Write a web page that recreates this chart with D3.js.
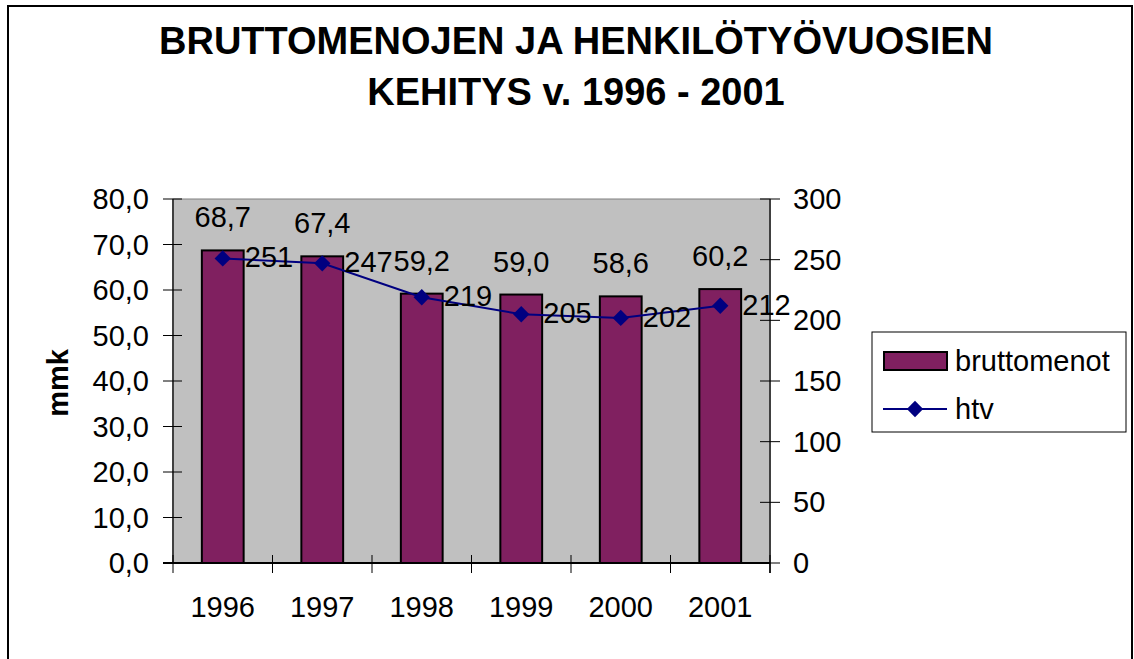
<!DOCTYPE html>
<html>
<head>
<meta charset="utf-8">
<script src="https://cdn.jsdelivr.net/npm/d3@7"></script>
<style>
  body { margin: 0; background: #fff; }
  text { font-family: "Liberation Sans", Arial, sans-serif; fill: #000; }
</style>
</head>
<body>
<div id="chart"></div>
<script>
// chart values
var years = ['1996', '1997', '1998', '1999', '2000', '2001'];
var bruttomenot = [68.7, 67.4, 59.2, 59.0, 58.6, 60.2];
var htv = [251, 247, 219, 205, 202, 212];
var leftTicks = [0, 10, 20, 30, 40, 50, 60, 70, 80];
var rightTicks = [0, 50, 100, 150, 200, 250, 300];
var titleLines = ['BRUTTOMENOJEN JA HENKILÖTYÖVUOSIEN', 'KEHITYS v. 1996 - 2001'];

var width = 1134;
var height = 659;
var barColor = '#802060';
var lineColor = '#000080';
var fs = '29px';
var fmt = function(v) { return d3.format('.1f')(v).replace('.', ','); };

var svg = d3.select('#chart').append('svg')
  .attr('width', width)
  .attr('height', height);

// outer frame
svg.append('rect')
  .attr('x', 8).attr('y', 6)
  .attr('width', 1124).attr('height', 670)
  .attr('fill', 'none')
  .attr('stroke', '#000')
  .attr('stroke-width', 2);

// plot area
var plot = { left: 173, right: 770, top: 199, bottom: 563 };

var x = d3.scaleBand().domain(years).range([plot.left, plot.right]);
var yL = d3.scaleLinear().domain([0, 80]).range([plot.bottom, plot.top]);
var yR = d3.scaleLinear().domain([0, 300]).range([plot.bottom, plot.top]);

svg.append('rect')
  .attr('x', plot.left).attr('y', plot.top)
  .attr('width', plot.right - plot.left).attr('height', plot.bottom - plot.top)
  .attr('fill', '#c0c0c0')
  .attr('stroke', '#808080')
  .attr('stroke-width', 1);

// title
svg.selectAll('.title').data(titleLines).enter().append('text')
  .attr('class', 'title')
  .attr('x', 576)
  .attr('y', function(d, i) { return 54 + i * 51; })
  .attr('text-anchor', 'middle')
  .style('font-size', '38px')
  .style('font-weight', 'bold')
  .text(function(d) { return d; });

// bars
var barW = x.bandwidth() * 0.42;
svg.selectAll('.bar').data(bruttomenot).enter().append('rect')
  .attr('class', 'bar')
  .attr('x', function(d, i) { return x(years[i]) + x.bandwidth() / 2 - barW / 2; })
  .attr('y', function(d) { return yL(d); })
  .attr('width', barW)
  .attr('height', function(d) { return yL(0) - yL(d); })
  .attr('fill', barColor)
  .attr('stroke', '#000')
  .attr('stroke-width', 2);

// left axis
svg.append('line')
  .attr('x1', plot.left).attr('x2', plot.left)
  .attr('y1', plot.top).attr('y2', plot.bottom)
  .attr('stroke', '#404040').attr('stroke-width', 2);
svg.selectAll('.ltick').data(leftTicks).enter().append('line')
  .attr('x1', plot.left - 10).attr('x2', plot.left + 9)
  .attr('y1', function(d) { return yL(d); })
  .attr('y2', function(d) { return yL(d); })
  .attr('stroke', '#000');
svg.selectAll('.llab').data(leftTicks).enter().append('text')
  .attr('x', plot.left - 24)
  .attr('y', function(d) { return yL(d) + 10; })
  .attr('text-anchor', 'end')
  .style('font-size', fs)
  .text(function(d) { return fmt(d); });

// right axis
svg.append('line')
  .attr('x1', plot.right).attr('x2', plot.right)
  .attr('y1', plot.top).attr('y2', plot.bottom + 10)
  .attr('stroke', '#404040').attr('stroke-width', 2);
svg.selectAll('.rtick').data(rightTicks).enter().append('line')
  .attr('x1', plot.right - 10).attr('x2', plot.right + 10)
  .attr('y1', function(d) { return yR(d); })
  .attr('y2', function(d) { return yR(d); })
  .attr('stroke', '#000');
svg.selectAll('.rlab').data(rightTicks).enter().append('text')
  .attr('x', plot.right + 23)
  .attr('y', function(d) { return yR(d) + 10; })
  .style('font-size', fs)
  .text(function(d) { return d; });

// bottom axis
svg.append('line')
  .attr('x1', plot.left - 10).attr('x2', plot.right)
  .attr('y1', plot.bottom).attr('y2', plot.bottom)
  .attr('stroke', '#000').attr('stroke-width', 2);
svg.selectAll('.xtick').data(years.concat(['end'])).enter().append('line')
  .attr('x1', function(d, i) { return plot.left + i * x.bandwidth(); })
  .attr('x2', function(d, i) { return plot.left + i * x.bandwidth(); })
  .attr('y1', plot.bottom - 8).attr('y2', plot.bottom + 10)
  .attr('stroke', '#000');
svg.selectAll('.xlab').data(years).enter().append('text')
  .attr('x', function(d) { return x(d) + x.bandwidth() / 2; })
  .attr('y', 617)
  .attr('text-anchor', 'middle')
  .style('font-size', fs)
  .text(function(d) { return d; });

// y title
svg.append('text')
  .attr('transform', 'translate(68,383) rotate(-90)')
  .attr('text-anchor', 'middle')
  .style('font-size', '29px')
  .style('font-weight', 'bold')
  .text('mmk');

// htv line
var cx = function(d, i) { return x(years[i]) + x.bandwidth() / 2; };
var line = d3.line().x(cx).y(function(d) { return yR(d); });
svg.append('path')
  .datum(htv)
  .attr('d', line)
  .attr('fill', 'none')
  .attr('stroke', lineColor)
  .attr('stroke-width', 2);

var diamond = d3.symbol().type(d3.symbolDiamond2).size(170);
svg.selectAll('.marker').data(htv).enter().append('path')
  .attr('class', 'marker')
  .attr('d', diamond)
  .attr('transform', function(d, i) { return 'translate(' + cx(d, i) + ',' + yR(d) + ')'; })
  .attr('fill', lineColor);

// bar data labels
svg.selectAll('.blab').data(bruttomenot).enter().append('text')
  .attr('x', cx)
  .attr('y', function(d) { return yL(d) - 23; })
  .attr('text-anchor', 'middle')
  .style('font-size', fs)
  .text(function(d) { return fmt(d); });

// line data labels
svg.selectAll('.hlab').data(htv).enter().append('text')
  .attr('x', function(d, i) { return cx(d, i) + 22; })
  .attr('y', function(d) { return yR(d) + 9; })
  .style('font-size', fs)
  .text(function(d) { return d; });

// legend
var lg = svg.append('g');
lg.append('rect')
  .attr('x', 872).attr('y', 332).attr('width', 254).attr('height', 100)
  .attr('fill', '#fff').attr('stroke', '#000').attr('stroke-width', 1);
lg.append('rect')
  .attr('x', 884).attr('y', 352).attr('width', 63).attr('height', 18)
  .attr('fill', barColor).attr('stroke', '#000').attr('stroke-width', 2);
lg.append('text').attr('x', 955).attr('y', 371).style('font-size', fs).text('bruttomenot');
lg.append('line')
  .attr('x1', 883).attr('x2', 947).attr('y1', 409).attr('y2', 409)
  .attr('stroke', lineColor).attr('stroke-width', 2);
lg.append('path')
  .attr('d', diamond)
  .attr('transform', 'translate(915,409)')
  .attr('fill', lineColor);
lg.append('text').attr('x', 955).attr('y', 419).style('font-size', fs).text('htv');
</script>
</body>
</html>
